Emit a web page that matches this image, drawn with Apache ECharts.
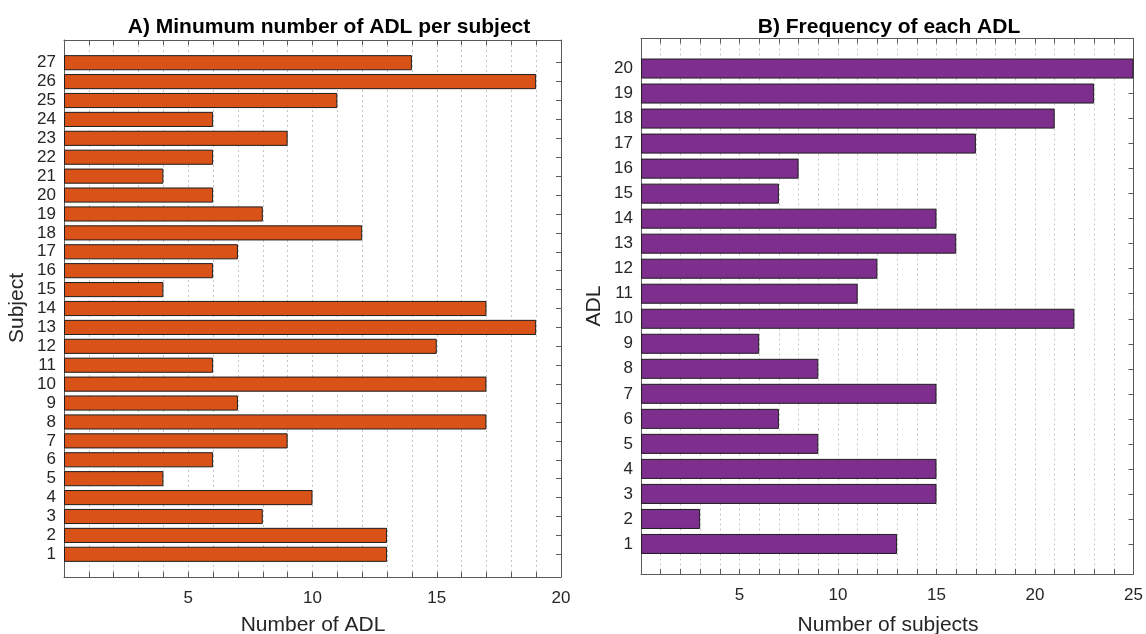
<!DOCTYPE html>
<html>
<head>
<meta charset="utf-8">
<script src="https://cdn.jsdelivr.net/npm/echarts@6/dist/echarts.min.js"></script>
<style>
html,body{margin:0;padding:0;background:#fff;}
#chart{width:1146px;height:634px;}
</style>
</head>
<body>
<div id="chart"></div>
<script>
// ---- Data ----
const subjects = ['1','2','3','4','5','6','7','8','9','10','11','12','13','14','15','16','17','18','19','20','21','22','23','24','25','26','27'];
const adlPerSubject = [13,13,8,10,4,6,9,17,7,17,6,15,19,17,4,6,7,12,8,6,4,6,9,6,11,19,14];
const adls = ['1','2','3','4','5','6','7','8','9','10','11','12','13','14','15','16','17','18','19','20'];
const subjectsPerAdl = [13,3,15,15,9,7,15,9,6,22,11,12,16,15,7,8,17,21,23,25];
const xTickLabelsA = [5,10,15,20];
const xTickLabelsB = [5,10,15,20,25];
const titleA = 'A) Minumum number of ADL per subject';
const titleB = 'B) Frequency of each ADL';

// ---- Layout ----
const FONT = '"Liberation Sans", Arial, Helvetica, sans-serif';
const frameColor = '#5a5a5a';
const textColor = '#262626';

// Left panel frame
const A = {left: 64, top: 40, right: 561, bottom: 577, xmax: 20, n: subjects.length};
// Right panel frame
const B = {left: 641, top: 38.5, right: 1133.5, bottom: 574, xmax: 25, n: adls.length};

function barGrid(P) {
  const h = P.bottom - P.top;
  const step = h / (P.n + 1.4);
  const top = P.top + 0.7 * step;
  return {left: P.left, top: top, width: P.right - P.left, height: step * P.n};
}
function frameGrid(P) {
  return {left: P.left, top: P.top, width: P.right - P.left, height: P.bottom - P.top};
}

const chart = echarts.init(document.getElementById('chart'), null, {renderer: 'canvas'});

function frameXAxes(gridIndex, xmax, labels) {
  return [
    {
      type: 'value', gridIndex: gridIndex, position: 'bottom', min: 0, max: xmax, interval: 1,
      axisLine: {show: true, onZero: false, lineStyle: {color: frameColor, width: 1}},
      axisTick: {show: true, inside: true, length: 5, lineStyle: {color: frameColor}},
      axisLabel: {
        show: true, margin: 13, fontSize: 17, color: textColor, fontFamily: FONT,
        formatter: v => labels.includes(v) ? String(v) : ''
      },
      splitLine: {show: true, lineStyle: {color: '#c4c4c4', type: [2, 3], width: 1}}
    },
    {
      type: 'value', gridIndex: gridIndex, position: 'top', min: 0, max: xmax, interval: 1,
      axisLine: {show: true, onZero: false, lineStyle: {color: frameColor, width: 1}},
      axisTick: {show: true, inside: true, length: 5, lineStyle: {color: frameColor}},
      axisLabel: {show: false},
      splitLine: {show: false}
    }
  ];
}
function frameYAxes(gridIndex) {
  const base = {
    type: 'value', gridIndex: gridIndex, min: 0, max: 1,
    axisLine: {show: true, onZero: false, lineStyle: {color: frameColor, width: 1}},
    axisTick: {show: false}, axisLabel: {show: false}, splitLine: {show: false}
  };
  return [Object.assign({position: 'left'}, base), Object.assign({position: 'right'}, base)];
}
function catYAxes(gridIndex, cats) {
  return [
    {
      type: 'category', gridIndex: gridIndex, position: 'left', data: cats,
      axisLine: {show: false},
      axisTick: {show: true, inside: true, alignWithLabel: true, length: 5, lineStyle: {color: frameColor}},
      axisLabel: {show: true, margin: 8, fontSize: 17, color: textColor, fontFamily: FONT, interval: 0},
      splitLine: {show: false}
    },
    {
      type: 'category', gridIndex: gridIndex, position: 'right', data: cats,
      axisLine: {show: false},
      axisTick: {show: true, inside: true, alignWithLabel: true, length: 5, lineStyle: {color: frameColor}},
      axisLabel: {show: false},
      splitLine: {show: false}
    }
  ];
}
function hiddenX(gridIndex, xmax) {
  return {type: 'value', gridIndex: gridIndex, min: 0, max: xmax, show: false, splitLine: {show: false}};
}

const option = {
  animation: false,
  backgroundColor: '#ffffff',
  grid: [frameGrid(A), barGrid(A), frameGrid(B), barGrid(B)],
  xAxis: [
    ...frameXAxes(0, A.xmax, xTickLabelsA), // 0,1
    hiddenX(1, A.xmax),                      // 2
    ...frameXAxes(2, B.xmax, xTickLabelsB), // 3,4
    hiddenX(3, B.xmax)                       // 5
  ],
  yAxis: [
    ...frameYAxes(0),          // 0,1
    ...catYAxes(1, subjects),  // 2,3
    ...frameYAxes(2),          // 4,5
    ...catYAxes(3, adls)       // 6,7
  ],
  series: [
    {
      type: 'bar', xAxisIndex: 2, yAxisIndex: 2, data: adlPerSubject, barWidth: '80%',
      itemStyle: {color: '#D95319', borderColor: '#1e1e1e', borderWidth: 1}
    },
    {
      type: 'bar', xAxisIndex: 5, yAxisIndex: 6, data: subjectsPerAdl, barWidth: '80%',
      itemStyle: {color: '#7E2F8E', borderColor: '#1e1e1e', borderWidth: 1}
    }
  ],
  graphic: [
    {type: 'text', x: 329, y: 27, style: {text: titleA, font: 'bold 21px ' + FONT, fill: '#000', textAlign: 'center', textVerticalAlign: 'middle'}},
    {type: 'text', x: 889, y: 27, style: {text: titleB, font: 'bold 21px ' + FONT, fill: '#000', textAlign: 'center', textVerticalAlign: 'middle'}},
    {type: 'text', x: 313, y: 625, style: {text: 'Number of ADL', font: '21px ' + FONT, fill: textColor, textAlign: 'center', textVerticalAlign: 'middle'}},
    {type: 'text', x: 888, y: 625, style: {text: 'Number of subjects', font: '21px ' + FONT, fill: textColor, textAlign: 'center', textVerticalAlign: 'middle'}},
    {type: 'text', x: 17, y: 308, rotation: Math.PI / 2, style: {text: 'Subject', font: '21px ' + FONT, fill: textColor, textAlign: 'center', textVerticalAlign: 'middle'}},
    {type: 'text', x: 594, y: 306, rotation: Math.PI / 2, style: {text: 'ADL', font: '21px ' + FONT, fill: textColor, textAlign: 'center', textVerticalAlign: 'middle'}}
  ]
};
chart.setOption(option);
</script>
</body>
</html>
